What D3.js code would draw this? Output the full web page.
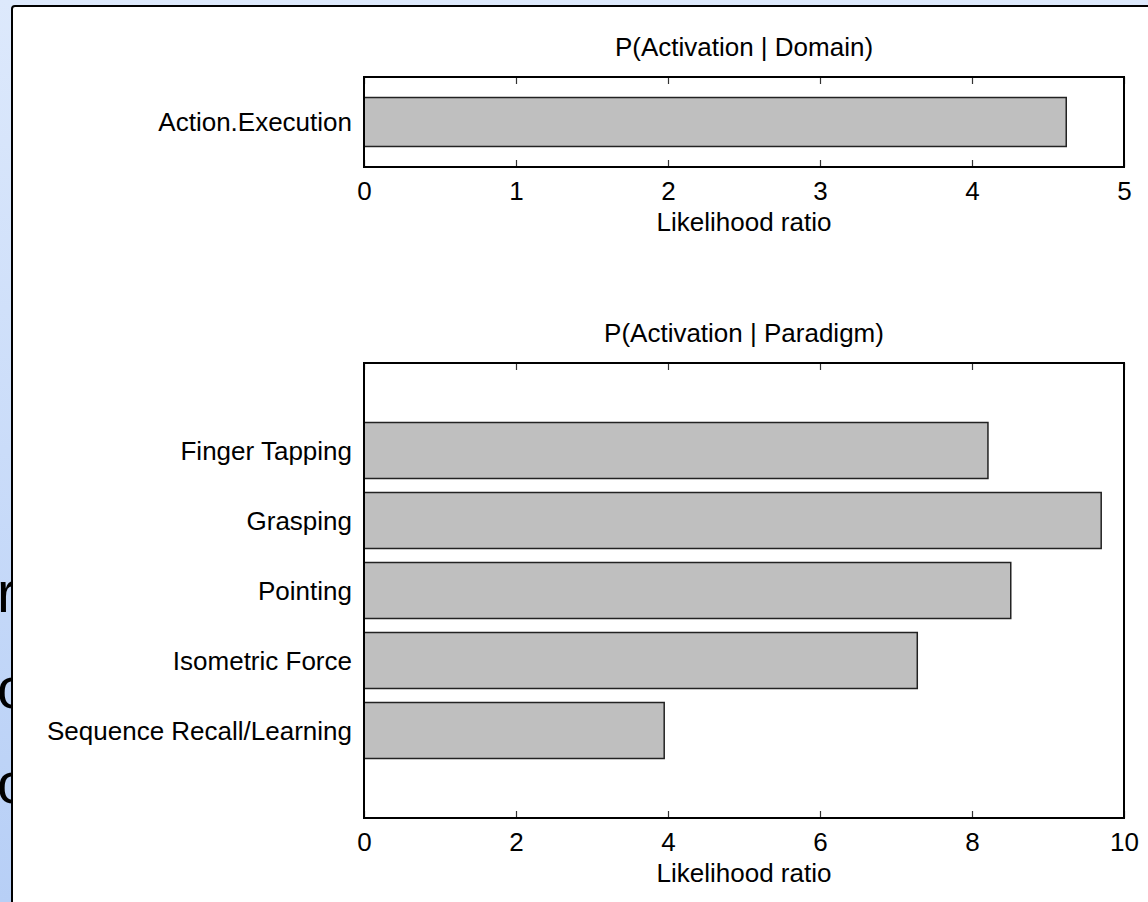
<!DOCTYPE html>
<html>
<head>
<meta charset="utf-8">
<script src="https://cdn.jsdelivr.net/npm/d3@7"></script>
<style>
  html, body { margin: 0; padding: 0; overflow: hidden; }
  text { font-family: "Liberation Sans", Arial, Helvetica, sans-serif; fill: #000; }
</style>
</head>
<body>
<svg id="chart" width="1148" height="902"></svg>
<script>
// data
const domainCategories = ["Action.Execution"];
const domainValues = [4.62];
const domainTicks = [0, 1, 2, 3, 4, 5];

const paradigmCategories = ["Finger Tapping", "Grasping", "Pointing", "Isometric Force", "Sequence Recall/Learning"];
const paradigmValues = [8.21, 9.70, 8.51, 7.28, 3.95];
const paradigmTicks = [0, 2, 4, 6, 8, 10];

const slideLetters = ["r", "o", "o"];

const W = 1148, H = 902;
const fontSize = 26;

let svg = d3.select("#chart");

// slide background behind the figure
let defs = svg.append("defs");
let grad = defs.append("linearGradient")
  .attr("id", "bg")
  .attr("x1", 0).attr("y1", 0).attr("x2", 0).attr("y2", 1);
grad.append("stop").attr("offset", "0%").attr("stop-color", "#dde9fc");
grad.append("stop").attr("offset", "100%").attr("stop-color", "#b7cff6");

svg.append("rect").attr("width", W).attr("height", H).attr("fill", "url(#bg)");

let letters = svg.append("g");
letters.selectAll("text")
  .data(slideLetters)
  .enter()
  .append("text")
  .attr("x", -3)
  .attr("y", (d, i) => 612 + i * 95.5)
  .attr("font-size", "57px")
  .text(d => d);

// white figure window
svg.append("rect")
  .attr("x", 13).attr("y", 7)
  .attr("width", W).attr("height", H)
  .attr("fill", "#fff");
svg.append("path")
  .attr("d", "M12,902 L12,9 Q12,6 15,6 L1148,6")
  .attr("fill", "none")
  .attr("stroke", "#000")
  .attr("stroke-width", 2);

function drawPanel(opts) {
  let x = d3.scaleLinear().domain(opts.xDomain).range([opts.left, opts.right]);
  let y = d3.scaleLinear().domain(opts.yDomain).range([opts.top, opts.bottom]);
  let g = svg.append("g");

  g.selectAll("rect.bar")
    .data(opts.values)
    .enter()
    .append("rect")
    .attr("class", "bar")
    .attr("x", x(0))
    .attr("y", (d, i) => y(i + 1 - 0.4))
    .attr("width", d => x(d) - x(0))
    .attr("height", (d, i) => y(i + 1 + 0.4) - y(i + 1 - 0.4))
    .attr("fill", "#bfbfbf")
    .attr("stroke", "#222")
    .attr("stroke-width", 1.5);

  let bottomAxis = d3.axisBottom(x)
    .tickValues(opts.ticks)
    .tickFormat(d3.format("d"))
    .tickSizeInner(-7)
    .tickSizeOuter(0)
    .tickPadding(15);
  let ga = g.append("g")
    .attr("transform", "translate(0," + opts.bottom + ")")
    .call(bottomAxis);
  ga.select(".domain").remove();
  ga.selectAll("line").attr("stroke", "#333").attr("stroke-width", 1.2);
  ga.selectAll("text")
    .attr("font-size", fontSize + "px")
    .attr("font-family", null)
    .attr("fill", "#000");
  ga.attr("font-family", null).attr("font-size", null);

  let topAxis = d3.axisTop(x)
    .tickValues(opts.ticks)
    .tickFormat("")
    .tickSizeInner(-7)
    .tickSizeOuter(0);
  let gt = g.append("g")
    .attr("transform", "translate(0," + opts.top + ")")
    .call(topAxis);
  gt.select(".domain").remove();
  gt.selectAll("line").attr("stroke", "#333").attr("stroke-width", 1.2);

  // axes box
  g.append("rect")
    .attr("x", opts.left).attr("y", opts.top)
    .attr("width", opts.right - opts.left)
    .attr("height", opts.bottom - opts.top)
    .attr("fill", "none")
    .attr("stroke", "#000")
    .attr("stroke-width", 2);

  g.selectAll("text.cat")
    .data(opts.categories)
    .enter()
    .append("text")
    .attr("class", "cat")
    .attr("x", opts.left - 12)
    .attr("y", (d, i) => y(i + 1))
    .attr("dy", "0.35em")
    .attr("text-anchor", "end")
    .attr("font-size", fontSize + "px")
    .text(d => d);

  g.append("text")
    .attr("x", (opts.left + opts.right) / 2)
    .attr("y", opts.top - 21)
    .attr("text-anchor", "middle")
    .attr("font-size", fontSize + "px")
    .text(opts.title);

  g.append("text")
    .attr("x", (opts.left + opts.right) / 2)
    .attr("y", opts.bottom + 64)
    .attr("text-anchor", "middle")
    .attr("font-size", fontSize + "px")
    .text("Likelihood ratio");
}

drawPanel({
  title: "P(Activation | Domain)",
  categories: domainCategories,
  values: domainValues,
  ticks: domainTicks,
  xDomain: [0, 5],
  yDomain: [0.265, 1.735],
  left: 364, right: 1124, top: 77, bottom: 167
});

drawPanel({
  title: "P(Activation | Paradigm)",
  categories: paradigmCategories,
  values: paradigmValues,
  ticks: paradigmTicks,
  xDomain: [0, 10],
  yDomain: [-0.25, 6.25],
  left: 364, right: 1124, top: 363, bottom: 818
});
</script>
</body>
</html>
